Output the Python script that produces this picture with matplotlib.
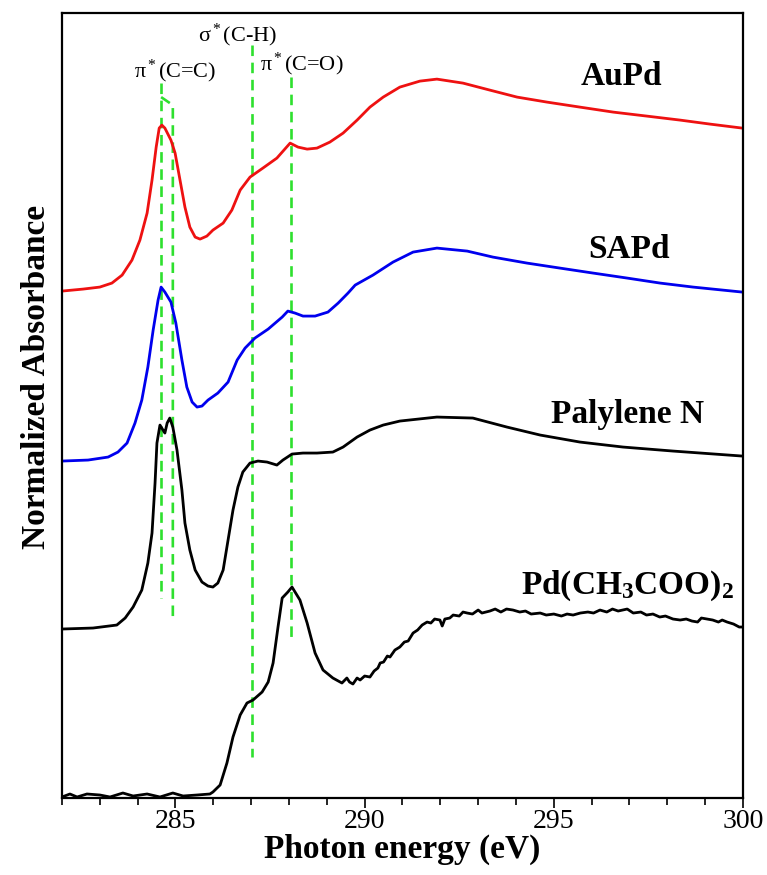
import matplotlib.pyplot as plt

plt.rcParams['font.family'] = 'Liberation Serif'
plt.rcParams['mathtext.fontset'] = 'custom'
plt.rcParams['mathtext.rm'] = 'Liberation Serif'
plt.rcParams['mathtext.it'] = 'Liberation Serif:italic'
plt.rcParams['mathtext.bf'] = 'Liberation Serif:bold'

# NEXAFS C K-edge spectra, offset vertically (arbitrary units)
aupd_x = [282.00, 282.56, 283.00, 283.32, 283.59, 283.85, 284.06, 284.25, 284.38, 284.49,
          284.57, 284.64, 284.72, 284.88, 284.99, 285.12, 285.25, 285.38, 285.52, 285.65,
          285.83, 285.99, 286.26, 286.49, 286.71, 286.97, 287.31, 287.68, 288.03, 288.24,
          288.48, 288.74, 289.08, 289.43, 289.80, 290.14, 290.49, 290.93, 291.46, 291.91,
          292.60, 293.31, 294.03, 294.82, 295.69, 296.57, 297.46, 298.34, 299.13, 299.98]
aupd_y = [5.07, 5.09, 5.11, 5.15, 5.23, 5.38, 5.58, 5.85, 6.18, 6.51,
          6.70, 6.73, 6.70, 6.58, 6.45, 6.18, 5.91, 5.71, 5.61, 5.59,
          5.62, 5.68, 5.75, 5.88, 6.08, 6.21, 6.30, 6.40, 6.55, 6.51,
          6.49, 6.50, 6.56, 6.65, 6.78, 6.91, 7.01, 7.11, 7.17, 7.19,
          7.15, 7.08, 7.01, 6.96, 6.91, 6.86, 6.82, 6.78, 6.74, 6.70]

sapd_x = [282.00, 282.69, 283.22, 283.48, 283.72, 283.93, 284.11, 284.27, 284.41, 284.54,
          284.62, 284.72, 284.88, 285.01, 285.17, 285.30, 285.44, 285.57, 285.70, 285.86,
          286.12, 286.39, 286.63, 286.84, 287.10, 287.45, 287.82, 287.97, 288.16, 288.37,
          288.69, 289.03, 289.30, 289.56, 289.75, 290.22, 290.75, 291.28, 291.91, 292.71,
          293.39, 294.29, 295.16, 296.04, 296.94, 297.81, 298.68, 299.98]
sapd_y = [3.37, 3.38, 3.41, 3.46, 3.55, 3.75, 3.98, 4.31, 4.68, 4.98,
          5.11, 5.06, 4.96, 4.75, 4.38, 4.11, 3.96, 3.91, 3.92, 3.98,
          4.05, 4.16, 4.38, 4.50, 4.60, 4.69, 4.81, 4.87, 4.85, 4.82,
          4.82, 4.86, 4.95, 5.05, 5.13, 5.23, 5.36, 5.46, 5.50, 5.47,
          5.41, 5.35, 5.30, 5.25, 5.20, 5.15, 5.11, 5.06]

paly_x = [282.00, 282.82, 283.45, 283.67, 283.88, 284.11, 284.27, 284.38, 284.46, 284.51,
          284.59, 284.67, 284.72, 284.78, 284.85, 284.93, 285.04, 285.17, 285.25, 285.38,
          285.52, 285.70, 285.86, 285.99, 286.12, 286.26, 286.39, 286.52, 286.65, 286.78,
          286.97, 287.18, 287.42, 287.68, 287.84, 288.08, 288.37, 288.74, 289.16, 289.43,
          289.80, 290.14, 290.49, 290.93, 291.91, 292.86, 293.76, 294.64, 295.69, 296.83,
          298.15, 299.98]
paly_y = [1.69, 1.70, 1.73, 1.80, 1.91, 2.08, 2.35, 2.65, 3.15, 3.55,
          3.73, 3.68, 3.65, 3.75, 3.80, 3.71, 3.48, 3.08, 2.75, 2.48,
          2.28, 2.16, 2.12, 2.11, 2.15, 2.28, 2.58, 2.88, 3.11, 3.26,
          3.35, 3.37, 3.36, 3.33, 3.38, 3.44, 3.45, 3.45, 3.46, 3.51,
          3.61, 3.68, 3.73, 3.77, 3.81, 3.80, 3.71, 3.63, 3.56, 3.51,
          3.47, 3.42]

pdac_x = [282.00, 282.21, 282.40, 282.66, 283.00, 283.27, 283.61, 283.88, 284.25, 284.59,
          284.93, 285.20, 285.57, 285.91, 285.99, 286.18, 286.36, 286.52, 286.71, 286.89,
          287.05, 287.29, 287.45, 287.58, 287.71, 287.82, 287.97, 288.08, 288.29, 288.48,
          288.69, 288.90, 289.16, 289.40, 289.53, 289.60, 289.69, 289.80, 289.88, 290.00,
          290.14, 290.25, 290.35, 290.41, 290.50, 290.60, 290.67, 290.80, 290.93, 291.05,
          291.15, 291.28, 291.40, 291.52, 291.65, 291.75, 291.85, 291.99, 292.05, 292.12,
          292.25, 292.34, 292.50, 292.60, 292.71, 292.85, 293.00, 293.10, 293.31, 293.45,
          293.60, 293.75, 293.92, 294.10, 294.25, 294.40, 294.64, 294.80, 295.00, 295.20,
          295.35, 295.51, 295.70, 295.90, 296.05, 296.22, 296.40, 296.55, 296.70, 296.94,
          297.10, 297.30, 297.45, 297.62, 297.80, 297.95, 298.15, 298.34, 298.50, 298.65,
          298.80, 298.90, 299.05, 299.20, 299.35, 299.45, 299.58, 299.75, 299.90, 299.98]
pdac_y = [0.01, 0.04, 0.01, 0.04, 0.03, 0.01, 0.05, 0.02, 0.04, 0.01,
          0.05, 0.02, 0.03, 0.04, 0.06, 0.13, 0.35, 0.61, 0.83, 0.95,
          0.98, 1.06, 1.16, 1.35, 1.71, 2.00, 2.06, 2.11, 1.98, 1.75,
          1.45, 1.28, 1.20, 1.15, 1.20, 1.16, 1.14, 1.20, 1.18, 1.22,
          1.21, 1.27, 1.30, 1.35, 1.36, 1.42, 1.41, 1.48, 1.51, 1.56,
          1.57, 1.65, 1.68, 1.73, 1.76, 1.75, 1.79, 1.78, 1.72, 1.79,
          1.80, 1.83, 1.82, 1.86, 1.85, 1.84, 1.88, 1.85, 1.87, 1.89,
          1.86, 1.89, 1.88, 1.86, 1.87, 1.84, 1.85, 1.83, 1.84, 1.82,
          1.84, 1.83, 1.85, 1.86, 1.85, 1.88, 1.86, 1.89, 1.87, 1.89,
          1.85, 1.86, 1.83, 1.84, 1.81, 1.82, 1.79, 1.78, 1.79, 1.77,
          1.76, 1.80, 1.79, 1.78, 1.76, 1.78, 1.76, 1.74, 1.71, 1.71]

# resonance positions (eV)
pi_cc = [284.62, 284.93]
sigma_ch = 287.02
pi_co = 288.05

fig = plt.figure(figsize=(7.67, 8.75), dpi=100)
ax = fig.add_axes([0.0808, 0.088, 0.8879, 0.897])

green = '#2ee02e'
dash = dict(color=green, lw=1.9, dashes=(4, 2.5))
ax.plot([pi_cc[0], pi_cc[0]], [7.15, 2.00], **dash)
ax.plot([pi_cc[0], pi_cc[1], pi_cc[1]], [7.01, 6.93, 1.79], **dash)
ax.plot([sigma_ch, sigma_ch], [7.53, 0.41], **dash)
ax.plot([pi_co, pi_co], [7.21, 1.61], **dash)

ax.plot(aupd_x, aupd_y, color='#ee1111', lw=2)
ax.plot(sapd_x, sapd_y, color='#0000ee', lw=2)
ax.plot(paly_x, paly_y, color='black', lw=2)
ax.plot(pdac_x, pdac_y, color='black', lw=2)

lab = dict(fontsize=24, fontweight='bold', ha='center', va='center')
ax.text(296.8, 7.22, 'AuPd', **lab)
ax.text(297.0, 5.49, 'SAPd', **lab)
ax.text(296.96, 3.84, 'Palylene N', **lab)
ax.text(296.95, 2.12, r'Pd(CH$_\mathbf{3}$COO)$_\mathbf{2}$', **lab)

ann = dict(fontsize=16, ha='center', va='center')
ax.text(285.0, 7.27, r'π$^*$(C=C)', **ann)
ax.text(286.63, 7.63, r'σ$^*$(C-H)', **ann)
ax.text(288.35, 7.34, r'π$^*$(C=O)', **ann)

ax.set_xlim(282, 300)
ax.set_ylim(0, 7.85)
ax.set_xticks([285, 290, 295, 300])
ax.set_xticks(range(282, 301), minor=True)
ax.set_yticks([])
ax.tick_params(axis='x', which='major', direction='out', length=7, width=1.2,
               labelsize=20, pad=1, top=False)
ax.tick_params(axis='x', which='minor', direction='out', length=5, width=1.2, top=False)
for s in ax.spines.values():
    s.set_linewidth(1.6)

ax.set_xlabel('Photon energy (eV)', fontsize=24, fontweight='bold', labelpad=0)
ax.set_ylabel('Normalized Absorbance', fontsize=24, fontweight='bold')
ax.yaxis.set_label_coords(-0.014, 0.536)

plt.savefig('out.png', dpi=100)
